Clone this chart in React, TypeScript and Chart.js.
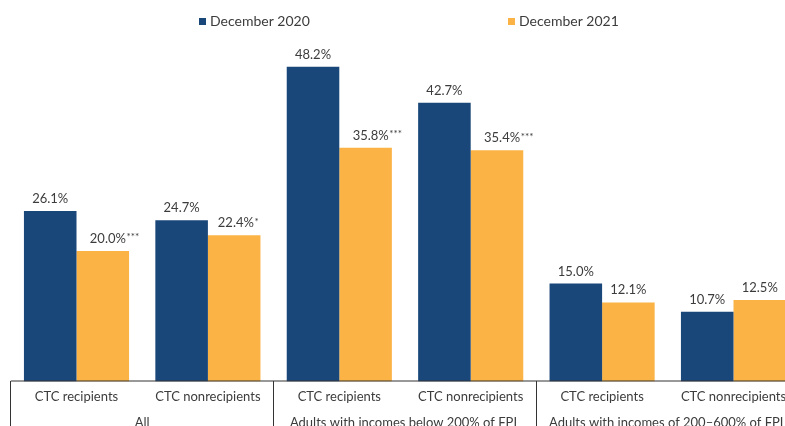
import React, { useEffect, useRef } from "react";
import { Chart, registerables } from "chart.js";

Chart.register(...registerables);

const categories = [
  "CTC recipients",
  "CTC nonrecipients",
  "CTC recipients",
  "CTC nonrecipients",
  "CTC recipients",
  "CTC nonrecipients",
];
const groups = [
  "All",
  "Adults with incomes below 200% of FPL",
  "Adults with incomes of 200–600% of FPL",
];
const seriesNames = ["December 2020", "December 2021"];
const dec2020 = [26.1, 24.7, 48.2, 42.7, 15.0, 10.7];
const dec2021 = [20.0, 22.4, 35.8, 35.4, 12.1, 12.5];
const sig2021 = ["***", "*", "***", "***", "", ""];
const colors = ["#1a477a", "#fbb346"];

const FONT = "Lato, 'Open Sans', sans-serif";
const TEXT = "#3c3c3c";

const overlay = {
  id: "overlay",
  afterDatasetsDraw(chart: any) {
    const ctx = chart.ctx;
    const area = chart.chartArea;
    ctx.save();
    // value labels
    chart.data.datasets.forEach((ds: any, di: number) => {
      const meta = chart.getDatasetMeta(di);
      meta.data.forEach((bar: any, i: number) => {
        const main = ds.data[i].toFixed(1) + "%";
        const stars = di === 1 ? sig2021[i] : "";
        ctx.font = `10px ${FONT}`;
        const sw = stars ? ctx.measureText(stars).width : 0;
        ctx.font = `13px ${FONT}`;
        const mw = ctx.measureText(main).width;
        const cx = bar.x + sw * 0.4;
        const by = bar.y - 8;
        ctx.fillStyle = TEXT;
        ctx.textAlign = "left";
        ctx.textBaseline = "alphabetic";
        ctx.fillText(main, cx - mw / 2, by);
        if (stars) {
          ctx.font = `10px ${FONT}`;
          ctx.fillText(stars, cx + mw / 2 + 0.5, by - 2.5);
        }
      });
    });
    // table axis
    const xs = chart.scales.x;
    const step = (area.right - area.left) / categories.length;
    const lineY = area.bottom - 0.5;
    ctx.strokeStyle = "#333";
    ctx.lineWidth = 1;
    ctx.beginPath();
    ctx.moveTo(area.left, lineY);
    ctx.lineTo(area.right, lineY);
    for (let g = 0; g <= groups.length; g++) {
      const x = Math.floor(area.left + g * 2 * step) + 0.5;
      ctx.moveTo(x, lineY);
      ctx.lineTo(x, chart.height);
    }
    ctx.stroke();
    ctx.fillStyle = TEXT;
    ctx.font = `13px ${FONT}`;
    ctx.textAlign = "center";
    ctx.textBaseline = "alphabetic";
    categories.forEach((c, i) => {
      ctx.fillText(c, xs.getPixelForValue(i), area.bottom + 19);
    });
    groups.forEach((g, i) => {
      const x = (xs.getPixelForValue(2 * i) + xs.getPixelForValue(2 * i + 1)) / 2;
      ctx.fillText(g, x, area.bottom + 45);
    });
    // legend
    const legendX = [199, 508];
    ctx.font = `14px ${FONT}`;
    ctx.textAlign = "left";
    seriesNames.forEach((s, i) => {
      ctx.fillStyle = colors[i];
      ctx.fillRect(legendX[i], 18, 7, 7);
      ctx.fillStyle = TEXT;
      ctx.fillText(s, legendX[i] + 11, 26);
    });
    ctx.restore();
  },
};

export default function App() {
  const ref = useRef<HTMLCanvasElement>(null);
  useEffect(() => {
    if (!ref.current) return;
    const chart = new Chart(ref.current, {
      type: "bar",
      data: {
        labels: categories,
        datasets: [
          { label: seriesNames[0], data: dec2020, backgroundColor: colors[0] },
          { label: seriesNames[1], data: dec2021, backgroundColor: colors[1] },
        ],
      },
      options: {
        responsive: false,
        animation: false,
        layout: { padding: { left: 10.8, right: 10.8, top: 55, bottom: 58.5 } },
        datasets: { bar: { barPercentage: 1, categoryPercentage: 0.8 } },
        scales: {
          x: { display: false },
          y: { display: false, min: 0, max: 50 },
        },
        plugins: { legend: { display: false }, tooltip: { enabled: false } },
      },
      plugins: [overlay],
    });
    return () => chart.destroy();
  }, []);
  return (
    <div
      style={{
        position: "absolute",
        left: 0,
        top: 0,
        width: 785,
        height: 426,
        overflow: "hidden",
        background: "#fff",
      }}
    >
      <canvas ref={ref} width={810} height={440} style={{ display: "block" }} />
    </div>
  );
}
